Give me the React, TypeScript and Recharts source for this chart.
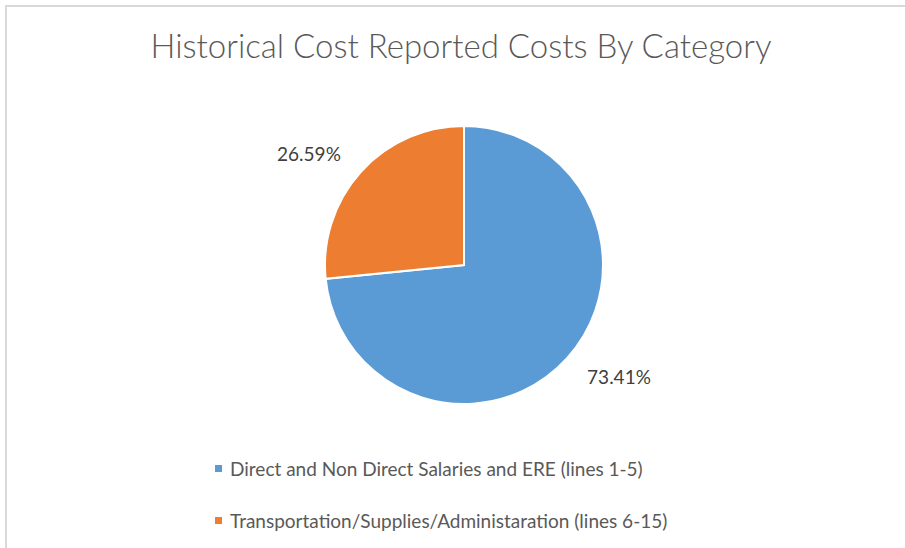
import { PieChart, Pie, Cell, Legend } from "recharts";

const categories = [
  "Direct and Non Direct Salaries and ERE (lines 1-5)",
  "Transportation/Supplies/Administaration (lines 6-15)",
];
const shares = [73.41, 26.59];
const colors = ["#5B9BD5", "#ED7D31"];

const data = categories.map((name, i) => ({ name, value: shares[i] }));

const FONT = "Lato, 'Open Sans', sans-serif";
const RAD = Math.PI / 180;

const renderLabel = (props: any) => {
  const { cx, cy, outerRadius, midAngle, value } = props;
  const r = outerRadius + 27;
  const x = cx + r * Math.cos(-midAngle * RAD);
  const y = cy + r * Math.sin(-midAngle * RAD);
  return (
    <text
      x={x}
      y={y}
      textAnchor={x > cx ? "start" : "end"}
      dominantBaseline="central"
      fill="#404040"
      fontSize={19}
      fontFamily={FONT}
    >
      {value.toFixed(2)}%
    </text>
  );
};

const renderLegend = (props: any) => {
  const { payload } = props;
  return (
    <div style={{ paddingLeft: 215 }}>
      {payload.map((entry: any, i: number) => (
        <div
          key={i}
          style={{
            display: "flex",
            alignItems: "center",
            height: 26,
            marginBottom: 26,
            fontFamily: FONT,
            fontSize: 19,
            color: "#595959",
            whiteSpace: "nowrap",
          }}
        >
          <span
            style={{
              width: 7,
              height: 7,
              background: entry.color,
              marginRight: 8,
              display: "inline-block",
            }}
          />
          {entry.value}
        </div>
      ))}
    </div>
  );
};

export default function App() {
  return (
    <div
      style={{
        position: "absolute",
        left: 0,
        top: 0,
        width: 905,
        height: 548,
        background: "#fff",
        overflow: "hidden",
      }}
    >
      <div
        style={{
          position: "absolute",
          left: 5,
          top: 5,
          width: 920,
          height: 560,
          borderLeft: "2px solid #d9d9d9",
          borderTop: "2px solid #d9d9d9",
        }}
      />
      <div
        style={{
          position: "absolute",
          left: 0,
          top: 25,
          width: 922,
          textAlign: "center",
          fontFamily: FONT,
          fontWeight: 300,
          fontSize: 33,
          color: "#595959",
          whiteSpace: "nowrap",
        }}
      >
        Historical Cost Reported Costs By Category
      </div>
      <div style={{ position: "absolute", left: 0, top: 0 }}>
        <PieChart width={905} height={548} margin={{ top: 0, right: 0, bottom: 0, left: 0 }}>
          <Pie
            data={data}
            dataKey="value"
            nameKey="name"
            cx={464}
            cy={265}
            outerRadius={139}
            startAngle={90}
            endAngle={-270}
            stroke="#fff"
            strokeWidth={2}
            label={renderLabel}
            labelLine={false}
            isAnimationActive={false}
          >
            {data.map((d, i) => (
              <Cell key={d.name} fill={colors[i]} />
            ))}
          </Pie>
          <Legend
            layout="vertical"
            verticalAlign="middle"
            align="center"
            wrapperStyle={{ top: 455, left: 0, width: 905 }}
            content={renderLegend}
          />
        </PieChart>
      </div>
    </div>
  );
}
